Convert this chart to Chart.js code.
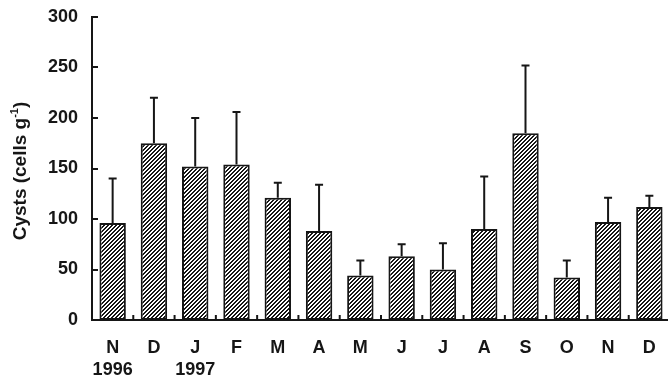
<!DOCTYPE html>
<html>
<head>
<meta charset="utf-8">
<script src="https://cdn.jsdelivr.net/npm/chart.js@4.4.1/dist/chart.umd.min.js"></script>
<style>
  html, body { margin: 0; padding: 0; background: #fff; overflow: hidden; }
  #wrap { width: 672px; height: 380px; }
</style>
</head>
<body>
<div id="wrap"><canvas id="c" width="672" height="380"></canvas></div>
<script>
// Monthly cyst abundance, Nov 1996 – Dec 1997
const months = ['N', 'D', 'J', 'F', 'M', 'A', 'M', 'J', 'J', 'A', 'S', 'O', 'N', 'D'];
const years = ['1996', '', '1997', '', '', '', '', '', '', '', '', '', '', ''];
const cysts = [96, 175, 152, 154, 121, 88, 44, 63, 50, 90, 185, 42, 97, 112];
const cystsSD = [44, 45, 48, 52, 15, 46, 15, 12, 26, 52, 67, 17, 24, 11];
const yTicks = [0, 50, 100, 150, 200, 250, 300];

const INK = '#161616';
const FONT = '"Liberation Sans", Arial, Helvetica, sans-serif';

// Diagonal hatch fill, crisp 4px stripes
function hatchPattern() {
  const n = 4;
  const tile = document.createElement('canvas');
  tile.width = n; tile.height = n;
  const tctx = tile.getContext('2d');
  const img = tctx.createImageData(n, n);
  for (let y = 0; y < n; y++) {
    for (let x = 0; x < n; x++) {
      const dark = ((x + y) % n) < 2;
      const i = (y * n + x) * 4;
      const v = dark ? 22 : 255;
      img.data[i] = v; img.data[i + 1] = v; img.data[i + 2] = v; img.data[i + 3] = 255;
    }
  }
  tctx.putImageData(img, 0, 0);
  return document.getElementById('c').getContext('2d').createPattern(tile, 'repeat');
}

// Upward error whiskers, inward tick marks and the rotated y title
const decorations = {
  id: 'decorations',
  afterDatasetsDraw(chart) {
    const ctx = chart.ctx;
    const ys = chart.scales.y;
    const xs = chart.scales.x;
    const area = chart.chartArea;
    const meta = chart.getDatasetMeta(0);
    ctx.save();
    ctx.strokeStyle = INK;
    ctx.lineWidth = 2;
    ctx.lineCap = 'butt';
    meta.data.forEach((bar, i) => {
      const top = ys.getPixelForValue(cysts[i]);
      const end = ys.getPixelForValue(cysts[i] + cystsSD[i]);
      ctx.beginPath();
      ctx.moveTo(bar.x, top);
      ctx.lineTo(bar.x, end);
      ctx.moveTo(bar.x - 4, end);
      ctx.lineTo(bar.x + 4, end);
      ctx.stroke();
    });
    // y ticks, pointing into the plot
    yTicks.forEach(v => {
      const py = Math.round(ys.getPixelForValue(v));
      ctx.beginPath();
      ctx.moveTo(area.left, py);
      ctx.lineTo(area.left + 6, py);
      ctx.stroke();
    });
    // x ticks between months, pointing up
    for (let i = 0; i < months.length - 1; i++) {
      const px = (xs.getPixelForValue(i) + xs.getPixelForValue(i + 1)) / 2;
      ctx.beginPath();
      ctx.moveTo(px, area.bottom);
      ctx.lineTo(px, area.bottom - 5);
      ctx.stroke();
    }
    ctx.restore();
  },
  afterDraw(chart) {
    const ctx = chart.ctx;
    const main = 'Cysts (cells g';
    const sup = '-1';
    const tail = ')';
    ctx.save();
    ctx.fillStyle = INK;
    ctx.textBaseline = 'alphabetic';
    const big = 'bold 19px ' + FONT;
    const small = 'bold 11px ' + FONT;
    ctx.font = big;
    const w1 = ctx.measureText(main).width;
    const w3 = ctx.measureText(tail).width;
    ctx.font = small;
    const w2 = ctx.measureText(sup).width;
    const total = w1 + w2 + w3;
    ctx.translate(26, 171);
    ctx.rotate(-Math.PI / 2);
    let x = -total / 2;
    ctx.font = big;
    ctx.fillText(main, x, 0);
    x += w1;
    ctx.font = small;
    ctx.fillText(sup, x, -8);
    x += w2;
    ctx.font = big;
    ctx.fillText(tail, x, 0);
    ctx.restore();
  }
};

new Chart(document.getElementById('c'), {
  type: 'bar',
  data: {
    labels: months.map((m, i) => years[i] ? [m, years[i]] : m),
    datasets: [{
      data: cysts,
      backgroundColor: hatchPattern(),
      borderColor: INK,
      borderWidth: 2,
      borderSkipped: false,
      barPercentage: 0.64,
      categoryPercentage: 1.0
    }]
  },
  options: {
    responsive: false,
    animation: false,
    events: [],
    layout: { padding: { top: 17, left: 0, right: 2, bottom: 0 } },
    plugins: {
      legend: { display: false },
      tooltip: { enabled: false },
      title: { display: false }
    },
    scales: {
      x: {
        grid: { display: false, drawTicks: false },
        border: { display: true, color: INK, width: 2 },
        ticks: {
          color: INK,
          font: { family: FONT, size: 18, weight: 'bold', lineHeight: 1.23 },
          padding: 17,
          maxRotation: 0,
          autoSkip: false
        },
        afterFit: s => { s.height = 60; s.paddingLeft = 0; s.paddingRight = 0; }
      },
      y: {
        min: 0,
        max: 300,
        grid: { display: false, drawTicks: false },
        border: { display: true, color: INK, width: 2 },
        afterBuildTicks: s => { s.ticks = yTicks.map(v => ({ value: v })); },
        ticks: {
          color: INK,
          font: { family: FONT, size: 18, weight: 'bold' },
          padding: 14
        },
        afterFit: s => { s.width = 92; s.paddingTop = 0; s.paddingBottom = 0; }
      }
    }
  },
  plugins: [decorations]
});
</script>
</body>
</html>
